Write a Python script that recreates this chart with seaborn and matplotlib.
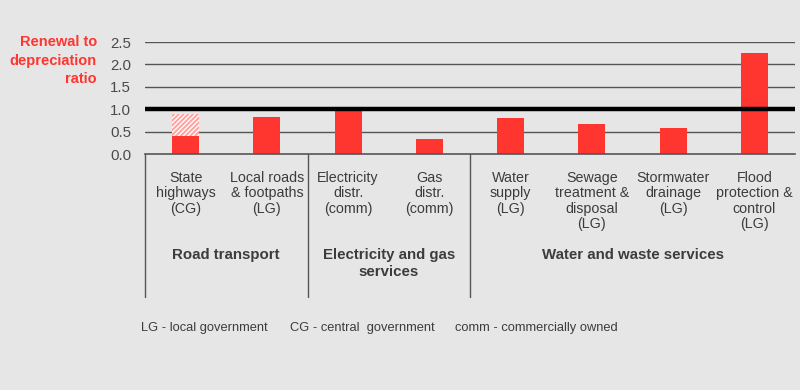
import matplotlib
matplotlib.use("Agg")
import matplotlib.pyplot as plt
import seaborn as sns
import pandas as pd

# data
categories = [
    "State\nhighways\n(CG)",
    "Local roads\n& footpaths\n(LG)",
    "Electricity\ndistr.\n(comm)",
    "Gas\ndistr.\n(comm)",
    "Water\nsupply\n(LG)",
    "Sewage\ntreatment &\ndisposal\n(LG)",
    "Stormwater\ndrainage\n(LG)",
    "Flood\nprotection &\ncontrol\n(LG)",
]
ratios = [0.89, 0.83, 0.97, 0.33, 0.81, 0.68, 0.57, 2.25]
# hatched part of the State highways bar
hatch_cat = 0
hatch_bottom = 0.40
hatch_top = 0.89

groups = ["Road transport", "Electricity and gas\nservices", "Water and waste services"]
group_centres = [0.5, 2.5, 5.5]
group_edges = [-0.5, 1.5, 3.5]

footnotes = ["LG - local government", "CG - central  government", "comm - commercially owned"]

BG = "#e6e6e6"
RED = "#ff3530"
TXT = "#3c3c3c"

sns.set_theme(style="white", rc={"figure.facecolor": BG, "axes.facecolor": BG})
plt.rcParams["font.family"] = ["Liberation Sans", "DejaVu Sans"]

df = pd.DataFrame({"cat": categories, "ratio": ratios})

fig = plt.figure(figsize=(8, 3.9), dpi=100)
ax = fig.add_axes([145 / 800, (390 - 154) / 390, 650 / 800, 112 / 390])

# grid lines behind bars
for y in [0.5, 1.5, 2.0, 2.5]:
    ax.axhline(y, color="#555555", lw=1.0, zorder=0)

sns.barplot(data=df, x="cat", y="ratio", color=RED, width=0.33,
            saturation=1, linewidth=0, ax=ax, zorder=2)
ax.bar(hatch_cat, hatch_top - hatch_bottom, bottom=hatch_bottom, width=0.33,
       color="#ffa29e", edgecolor="white", hatch="///////", lw=0, zorder=3)

# benchmark line at 1.0
ax.axhline(1.0, color="black", lw=3.2, zorder=4)

ax.set_ylim(0, 2.5)
ax.set_xlim(-0.5, len(categories) - 0.5)
ax.set_yticks([0, 0.5, 1.0, 1.5, 2.0, 2.5])
ax.set_yticklabels(["0.0", "0.5", "1.0", "1.5", "2.0", "2.5"])
ax.tick_params(axis="y", length=0, pad=10, labelsize=10.8, labelcolor="#4a4a4a")
ax.tick_params(axis="x", length=0, pad=12, labelsize=10.3, labelcolor=TXT)
for lbl in ax.get_xticklabels():
    lbl.set_linespacing(1.13)
    lbl.set_va("top")
ax.set_xlabel("")
ax.set_ylabel("")
for s in ["top", "right", "left"]:
    ax.spines[s].set_visible(False)
ax.spines["bottom"].set_color("#555555")
ax.spines["bottom"].set_linewidth(1.2)

# y title
fig.text(97 / 800, 1 - 35 / 390, "Renewal to\ndepreciation\nratio", color=RED,
         fontsize=10.5, fontweight="bold", ha="right", va="top", linespacing=1.42)

# group separators and labels below the axis
trans = ax.get_xaxis_transform()
for x in group_edges:
    ax.plot([x, x], [0, -143 / 112], color="#555555", lw=1.0,
            transform=trans, clip_on=False)
for x, g in zip(group_centres, groups):
    ax.text(x, -94 / 112, g, transform=trans, ha="center", va="top",
            fontsize=10.8, fontweight="bold", color=TXT, linespacing=1.3)

for x, t in zip([141, 290, 455], footnotes):
    fig.text(x / 800, 1 - 328 / 390, t, ha="left", va="center",
             fontsize=9.3, color=TXT)

fig.savefig("out.png", dpi=100, facecolor=BG)
